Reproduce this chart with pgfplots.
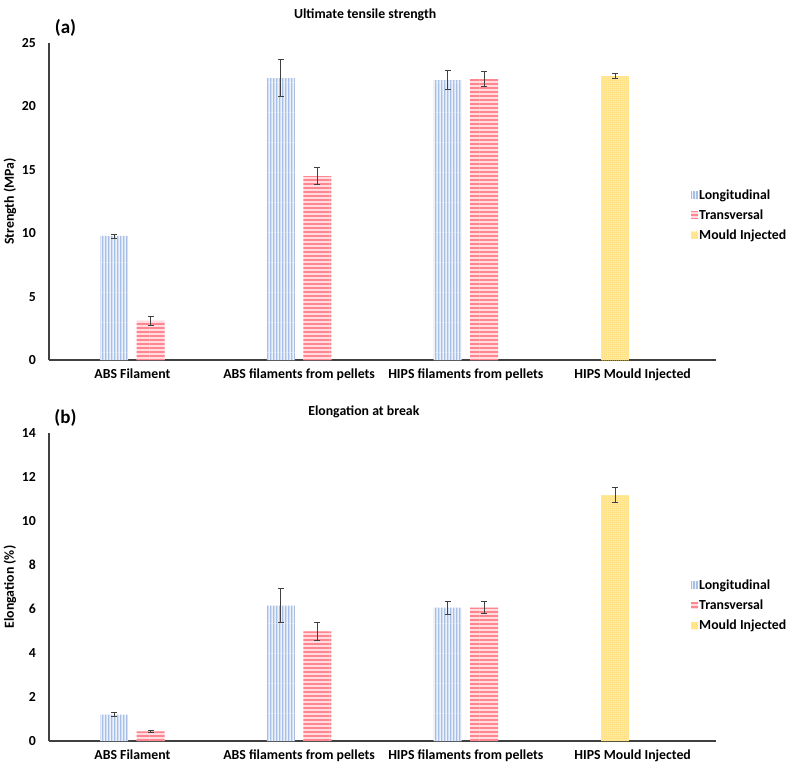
\documentclass[border=0pt]{standalone}
\usepackage{fontspec}
\setmainfont{Carlito}
\usepackage{pgfplots}
\pgfplotsset{compat=1.18}
\usetikzlibrary{patterns}

\definecolor{blueln}{RGB}{167,191,230}
\definecolor{bluebg}{RGB}{236,241,250}
\definecolor{redln}{RGB}{255,134,144}
\definecolor{redbg}{RGB}{255,220,224}
\definecolor{yelln}{RGB}{255,212,80}
\definecolor{yelbg}{RGB}{255,236,170}
\definecolor{axisgray}{RGB}{64,64,64}

% Excel-like fill patterns (long tiles keep the stripes unbroken)
\pgfdeclarepatternformonly{vstripes}{\pgfpointorigin}{\pgfpoint{3pt}{30pt}}{\pgfpoint{3pt}{30pt}}{%
  \pgfpathrectangle{\pgfpoint{0pt}{-0.5pt}}{\pgfpoint{1.7pt}{31pt}}\pgfusepath{fill}}
\pgfdeclarepatternformonly{hstripes}{\pgfpointorigin}{\pgfpoint{30pt}{4pt}}{\pgfpoint{30pt}{4pt}}{%
  \pgfpathrectangle{\pgfpoint{-0.5pt}{0pt}}{\pgfpoint{31pt}{2.4pt}}\pgfusepath{fill}}
\pgfdeclarepatternformonly{checker}{\pgfpointorigin}{\pgfpoint{2pt}{2pt}}{\pgfpoint{2pt}{2pt}}{%
  \pgfpathrectangle{\pgfpointorigin}{\pgfpoint{1pt}{1pt}}\pgfusepath{fill}%
  \pgfpathrectangle{\pgfpoint{1pt}{1pt}}{\pgfpoint{1pt}{1pt}}\pgfusepath{fill}}

\newcommand{\lbl}{\fontsize{13.8}{16}\selectfont\bfseries}

\pgfplotsset{
  panel/.style={
    scale only axis, width=667pt, clip=false,
    xmin=-0.5, xmax=3.5, ymin=0,
    ybar, bar width=28pt,
    axis x line*=bottom, axis y line*=left,
    axis line style={axisgray, line width=1.3pt},
    major tick length=0pt,
    xtick={0,1,2,3},
    xticklabels={ABS Filament, ABS filaments from pellets, HIPS filaments from pellets, HIPS Mould Injected},
    every tick label/.append style={font=\lbl},
    xticklabel style={yshift=-5pt},
    yticklabel style={xshift=-9.5pt},
    /pgf/number format/assume math mode=true,
    label style={font=\lbl},
    ylabel style={at={(axis description cs:-0.0585,0.5)}, anchor=center},
    title style={font=\lbl, anchor=center, yshift=0pt},
    legend style={draw=none, fill=none, font=\lbl, anchor=north west,
      row sep=7pt, nodes={inner sep=1pt}},
    legend cell align=left,
    legend image code/.code={\draw[##1,draw=none] (0pt,-3.5pt) rectangle (7pt,3.5pt);},
    error bars/y dir=both, error bars/y explicit,
    error bars/error bar style={line width=0.8pt, axisgray},
    error bars/error mark options={rotate=90, mark size=3pt, line width=0.8pt, axisgray},
  },
  longi/.style={draw=none, fill=bluebg, postaction={pattern=vstripes, pattern color=blueln}, bar shift=-18.3pt},
  trans/.style={draw=none, fill=redbg, postaction={pattern=hstripes, pattern color=redln}, bar shift=18.3pt},
  mould/.style={draw=none, fill=yelbg, postaction={pattern=checker, pattern color=yelln}, bar shift=-17.6pt},
}

\begin{document}
\begin{tikzpicture}
\useasboundingbox (0pt,0pt) rectangle (792pt,-772pt);

% (a) Ultimate tensile strength
\begin{axis}[panel, at={(49pt,-360pt)}, anchor=south west,
  height=317pt, ymax=25, ytick={0,5,...,25},
  ylabel={Strength (MPa)},
  title={Ultimate tensile strength}, title style={at={(axis description cs:0.474,1.069)}},
  legend style={at={(axis description cs:0.958,0.548)}}]
\addplot[longi] coordinates {(0,9.78) +- (0,0.15) (1,22.24) +- (0,1.45) (2,22.08) +- (0,0.73)};
\addplot[trans] coordinates {(0,3.08) +- (0,0.32) (1,14.51) +- (0,0.65) (2,22.16) +- (0,0.58)};
\addplot[mould] coordinates {(3,22.38) +- (0,0.20)};
\legend{Longitudinal, Transversal, Mould Injected}
\node[font=\fontsize{19}{21}\selectfont\bfseries] at (axis description cs:0.0247,1.047) {(a)};
\end{axis}

% (b) Elongation at break
\begin{axis}[panel, at={(49pt,-741pt)}, anchor=south west,
  height=308pt, ymax=14, ytick={0,2,...,14},
  ylabel={Elongation (\%)},
  title={Elongation at break}, title style={at={(axis description cs:0.472,1.049)}},
  legend style={at={(axis description cs:0.958,0.534)}}]
\addplot[longi] coordinates {(0,1.20) +- (0,0.09) (1,6.15) +- (0,0.77) (2,6.06) +- (0,0.30)};
\addplot[trans] coordinates {(0,0.44) +- (0,0.06) (1,4.98) +- (0,0.39) (2,6.06) +- (0,0.27)};
\addplot[mould] coordinates {(3,11.18) +- (0,0.35)};
\legend{Longitudinal, Transversal, Mould Injected}
\node[font=\fontsize{19}{21}\selectfont\bfseries] at (axis description cs:0.0247,1.049) {(b)};
\end{axis}
\end{tikzpicture}
\end{document}
